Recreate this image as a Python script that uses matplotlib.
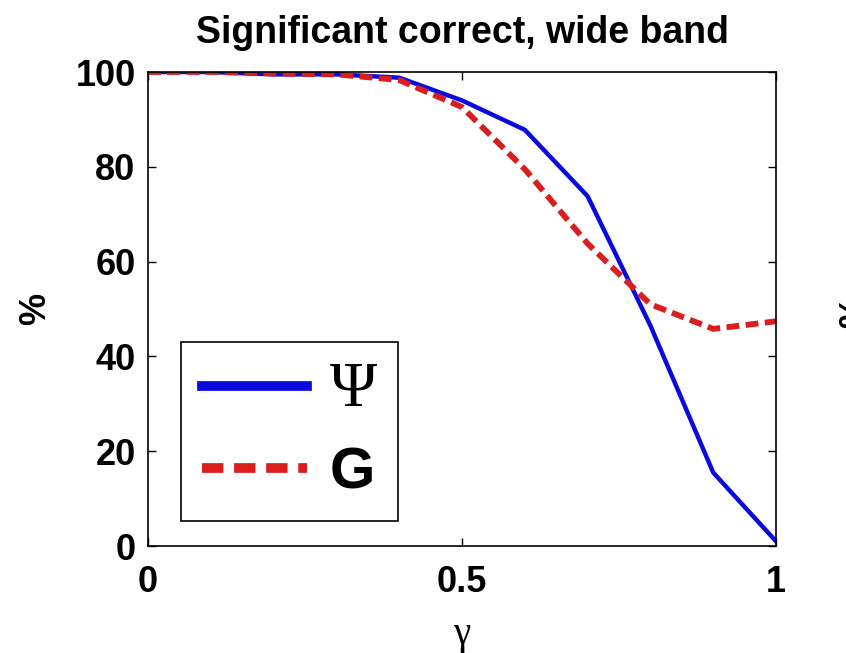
import numpy as np
import matplotlib
matplotlib.use("Agg")
import matplotlib.pyplot as plt

# values
gamma = [0.0, 0.1, 0.2, 0.3, 0.4, 0.5, 0.6, 0.7, 0.8, 0.9, 1.0]
psi = [100, 100, 99.5, 99.5, 98.8, 94.0, 87.8, 73.8, 46.5, 15.5, 1.0]
g_vals = [100, 100, 99.7, 99.5, 98.3, 92.6, 79.5, 63.8, 51.0, 45.8, 47.4]

xticks = [0, 0.5, 1]
yticks = [0, 20, 40, 60, 80, 100]

sans = ["Liberation Sans", "DejaVu Sans"]
serif = ["Liberation Serif", "DejaVu Serif"]
plt.rcParams["font.family"] = sans
plt.rcParams["font.weight"] = "bold"

fig = plt.figure(figsize=(8.46, 6.53), dpi=100)
ax = fig.add_axes([148 / 846, 1 - 546 / 653, 628 / 846, 474 / 653])

l1, = ax.plot(gamma, psi, color="#0a0ae0", lw=3.2, label="Ψ")
l2, = ax.plot(gamma, g_vals, color="#d81e1e", lw=4.2, dashes=(2.2, 1.1), label="G")

ax.set_xlim(0, 1)
ax.set_ylim(0, 100)
ax.set_xticks(xticks)
ax.set_xticklabels(["0", "0.5", "1"])
ax.set_yticks(yticks)
ax.tick_params(direction="in", top=True, right=True, length=6, width=1,
               labelsize=26)
ax.tick_params(axis="x", pad=14)
ax.tick_params(axis="y", pad=9)
for lab in ax.get_xticklabels() + ax.get_yticklabels():
    lab.set_fontweight("bold")
for s in ax.spines.values():
    s.set_linewidth(1.2)

ax.set_title("Significant correct, wide band", fontsize=27, fontweight="bold", pad=21)
ax.set_xlabel("γ", family=serif, fontsize=28, fontweight="normal", labelpad=11)
ax.set_ylabel("%", fontsize=26, fontweight="bold", labelpad=16)

leg = ax.legend(handles=[l1, l2], loc="lower left", bbox_to_anchor=(0.053, 0.053),
                borderaxespad=0, fontsize=42, handlelength=1.8, handletextpad=0.4,
                labelspacing=0.45, borderpad=0.35, fancybox=False,
                framealpha=1, edgecolor="black")
leg.get_frame().set_linewidth(1.2)
for h in leg.get_lines():
    h.set_linewidth(7)
txts = leg.get_texts()
txts[0].set_family(serif)
txts[0].set_fontweight("normal")
txts[0].set_fontsize(46)
txts[1].set_fontweight("bold")

# clipped label from the neighbouring panel
fig.text(838 / 846, 1 - 312 / 653, "%", rotation=90, fontsize=26,
         fontweight="bold", ha="left", va="center")

fig.savefig("out.png", dpi=100)
